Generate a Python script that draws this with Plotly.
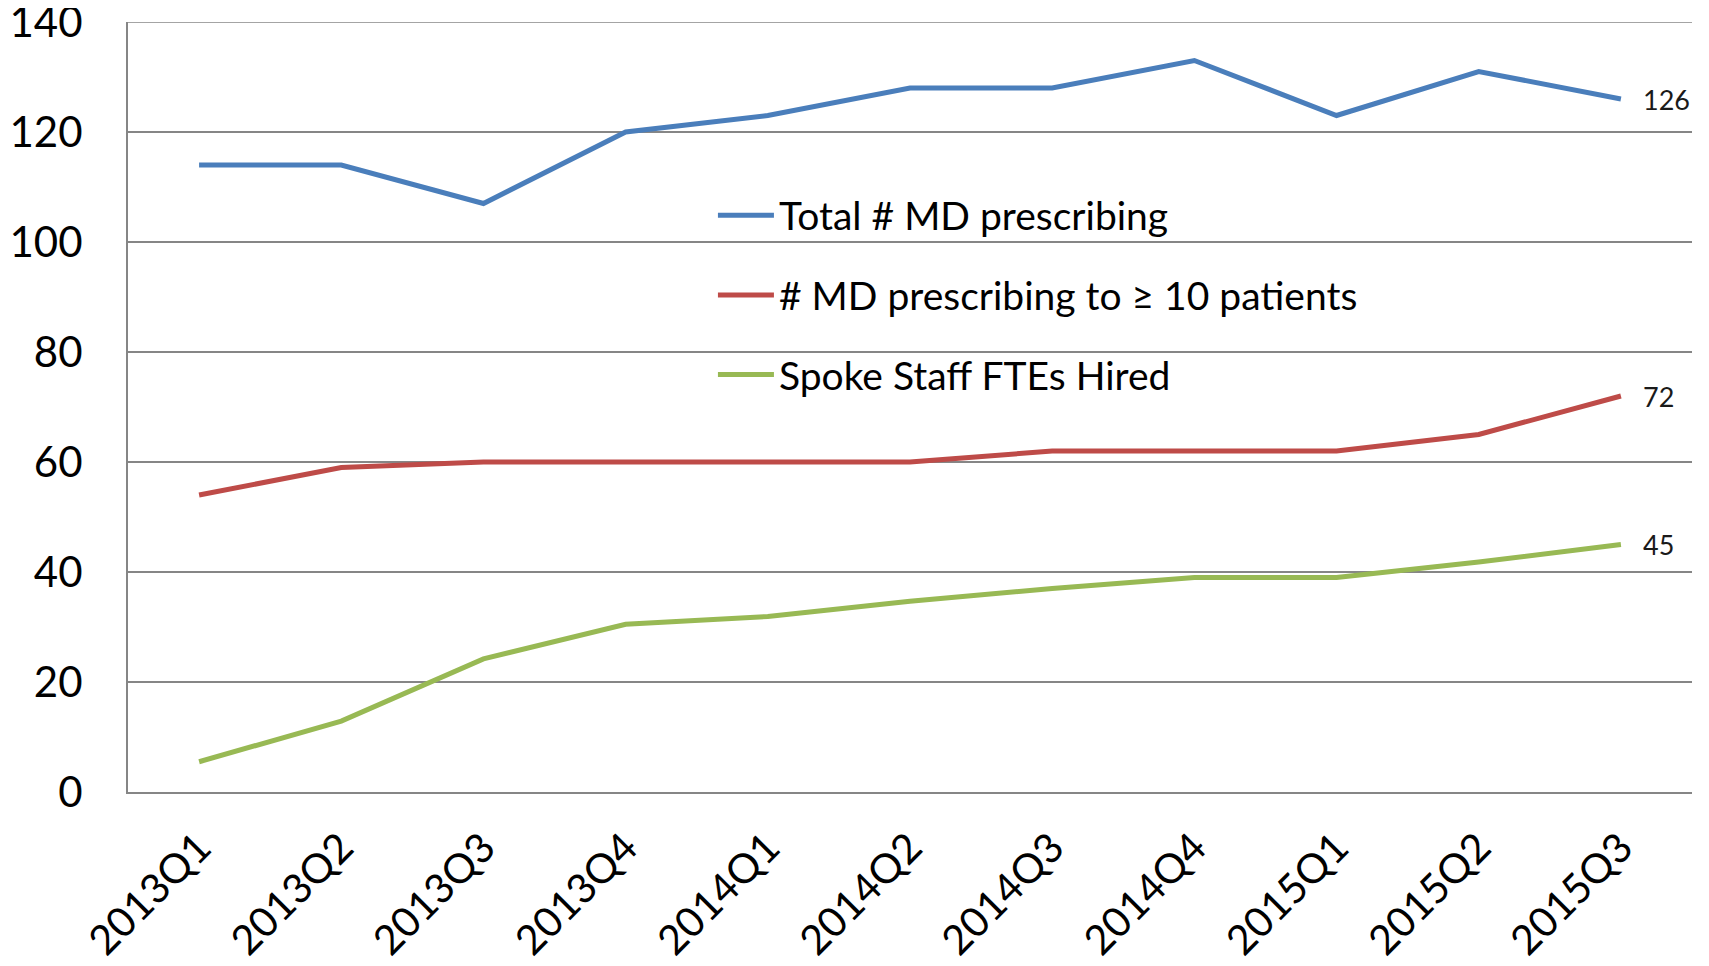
import plotly.graph_objects as go

quarters = ["2013Q1", "2013Q2", "2013Q3", "2013Q4", "2014Q1", "2014Q2",
            "2014Q3", "2014Q4", "2015Q1", "2015Q2", "2015Q3"]
total_md = [114, 114, 107, 120, 123, 128, 128, 133, 123, 131, 126]
md_10plus = [54, 59, 60, 60, 60, 60, 62, 62, 62, 65, 72]
spoke_fte = [5.5, 12.9, 24.2, 30.5, 31.9, 34.7, 37, 39, 39, 41.8, 45]
names = ["Total # MD prescribing", "# MD prescribing to \u2265 10 patients", "Spoke Staff FTEs Hired"]
colors = ["#4A7EBB", "#BE4B48", "#98B954"]
y_ticks = [0, 20, 40, 60, 80, 100, 120, 140]

FONT = "Lato, 'Open Sans', sans-serif"
GRID = "#868686"
series = [total_md, md_10plus, spoke_fte]

fig = go.Figure()
for i, (name, vals, col) in enumerate(zip(names, series, colors)):
    fig.add_trace(go.Scatter(
        x=quarters, y=vals, name=name, mode="lines",
        line=dict(color=col, width=5),
        legendgroup=f"g{i}",
    ))
    fig.add_annotation(
        x=quarters[-1], y=vals[-1], text=f"{vals[-1]:g}",
        showarrow=False, xanchor="left", yanchor="middle", xshift=20,
        font=dict(family=FONT, size=27, color="#1a1a1a"),
    )

# top gridline (at the edge of the range)
fig.add_shape(type="line", xref="paper", yref="y", x0=0, x1=1,
              y0=y_ticks[-1], y1=y_ticks[-1], line=dict(color=GRID, width=1.5),
              layer="below")

# page body has an 8px default margin: size the figure to fit the window
fig.update_layout(
    width=1701, height=958,
    margin=dict(l=120, r=17, t=14, b=174),
    paper_bgcolor="white", plot_bgcolor="white",
    font=dict(family=FONT, color="black"),
    showlegend=True,
    legend=dict(
        x=0.374, y=0.645, xanchor="left", yanchor="middle",
        bgcolor="rgba(0,0,0,0)", borderwidth=0,
        font=dict(family=FONT, size=39, color="black"),
        tracegroupgap=26, itemwidth=56,
    ),
    xaxis=dict(
        range=[-0.5, 10.5], showgrid=False, showline=True,
        linecolor=GRID, linewidth=2, ticks="",
        tickangle=-45, tickfont=dict(family=FONT, size=41, color="black"),
        ticklabelstandoff=13, automargin=False, ticklabeloverflow="allow",
    ),
    yaxis=dict(
        range=[0, 140], tickvals=y_ticks, showgrid=True,
        gridcolor=GRID, gridwidth=1.5, zeroline=False,
        showline=True, linecolor=GRID, linewidth=2, ticks="",
        tickfont=dict(family=FONT, size=42, color="black"),
        ticklabelstandoff=35, automargin=False, ticklabeloverflow="allow",
    ),
)

fig.write_html("out.html")
